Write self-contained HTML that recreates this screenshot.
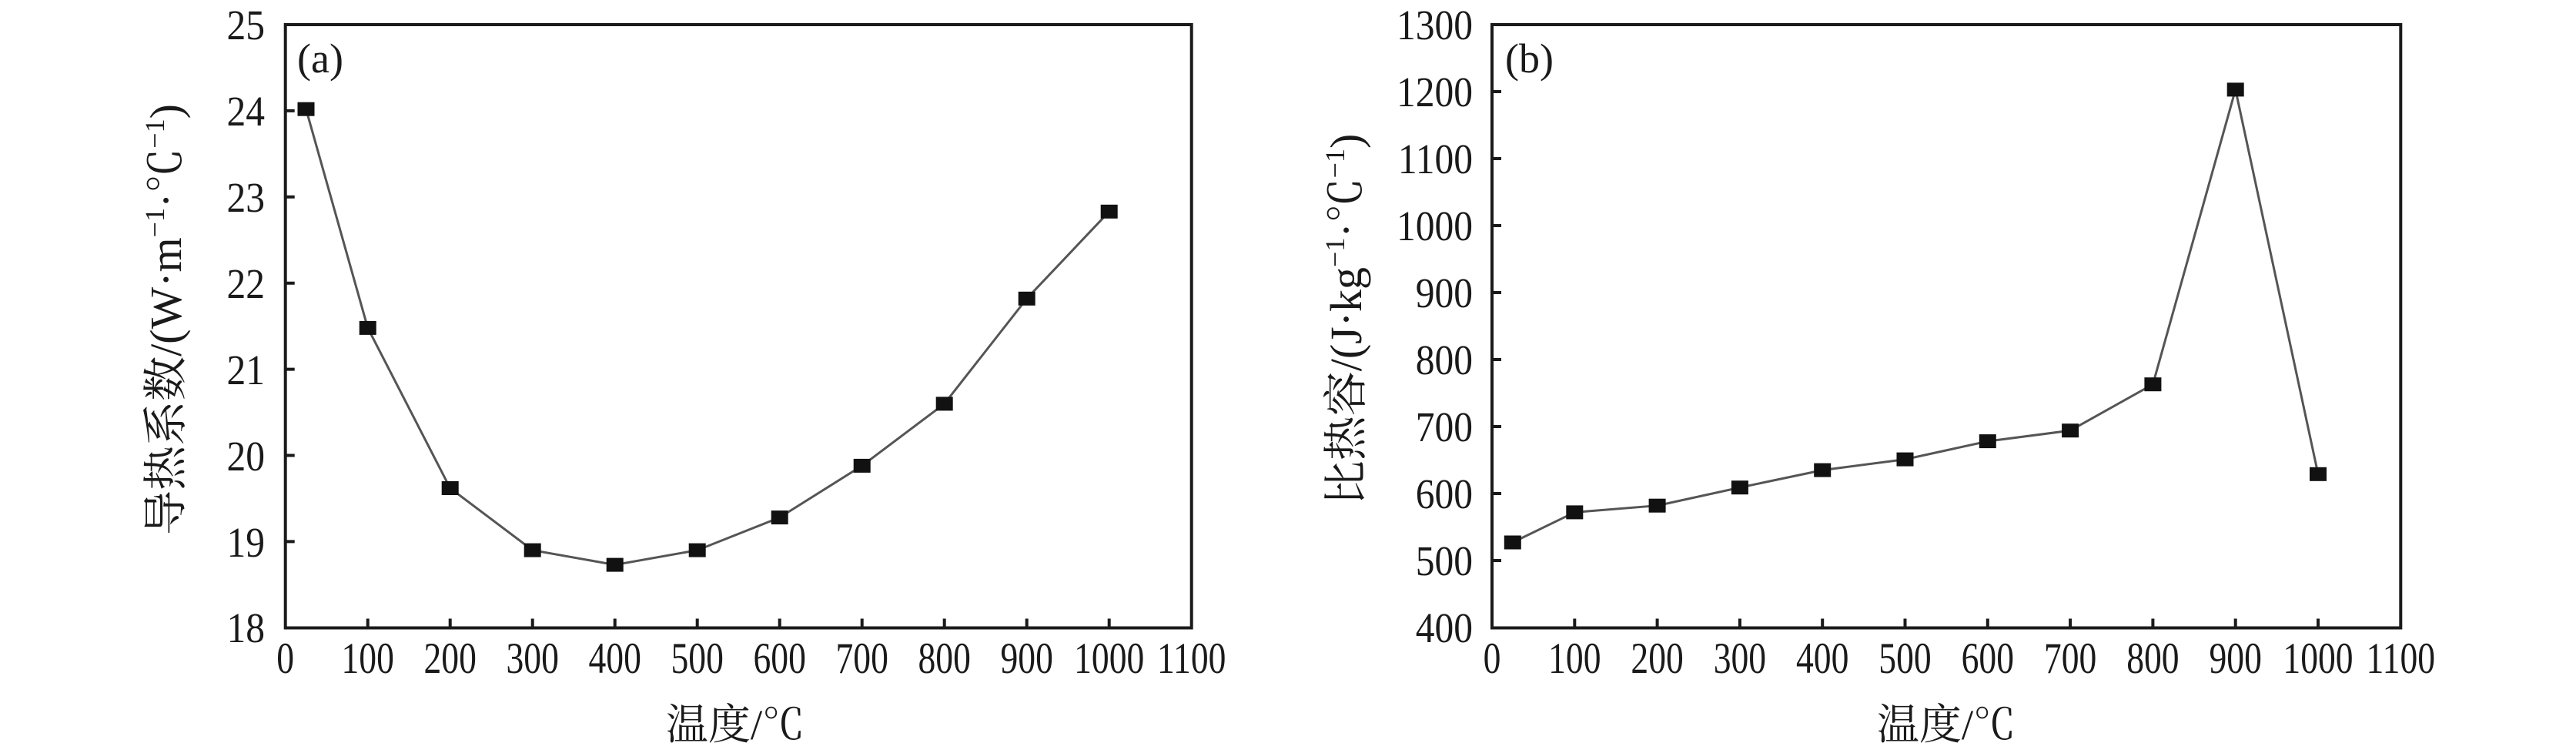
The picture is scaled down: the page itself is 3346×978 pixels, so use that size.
<!DOCTYPE html>
<html><head><meta charset="utf-8"><style>
html,body{margin:0;padding:0;background:#fff;}
svg{display:block;}
text{font-family:"Liberation Serif","Noto Serif CJK SC",serif;fill:#1a1a1a;}
</style></head><body>
<svg width="3346" height="978" viewBox="0 0 3346 978" xmlns="http://www.w3.org/2000/svg">
<!-- Panel (a) -->
<g stroke="#1a1a1a" stroke-width="4" fill="none">
<rect x="370.7" y="32" width="1177" height="783.5"/>
<path d="M370.7 143.9h12M370.7 255.8h12M370.7 367.7h12M370.7 479.6h12M370.7 591.5h12M370.7 703.4h12"/>
<path d="M477.7 815.5v-12M584.7 815.5v-12M691.7 815.5v-12M798.7 815.5v-12M905.7 815.5v-12M1012.7 815.5v-12M1119.7 815.5v-12M1226.7 815.5v-12M1333.7 815.5v-12M1440.7 815.5v-12"/>
</g>
<polyline fill="none" stroke="#555" stroke-width="3" points="397.5,141.7 477.7,425.9 584.7,634 691.7,714.6 798.7,733.6 905.7,714.6 1012.7,672.1 1119.7,604.9 1226.7,524.4 1333.7,387.8 1440.7,274.8"/>
<g fill="#111">
<rect x="386.5" y="132.7" width="22" height="18"/><rect x="466.7" y="416.9" width="22" height="18"/><rect x="573.7" y="625" width="22" height="18"/><rect x="680.7" y="705.6" width="22" height="18"/><rect x="787.7" y="724.6" width="22" height="18"/><rect x="894.7" y="705.6" width="22" height="18"/><rect x="1001.7" y="663.1" width="22" height="18"/><rect x="1108.7" y="595.9" width="22" height="18"/><rect x="1215.7" y="515.4" width="22" height="18"/><rect x="1322.7" y="378.8" width="22" height="18"/><rect x="1429.7" y="265.8" width="22" height="18"/>
</g>
<g font-size="55" text-anchor="end">
<text transform="translate(344,51) scale(0.9,1)">25</text><text transform="translate(344,163) scale(0.9,1)">24</text><text transform="translate(344,275) scale(0.9,1)">23</text><text transform="translate(344,387) scale(0.9,1)">22</text><text transform="translate(344,499) scale(0.9,1)">21</text><text transform="translate(344,611) scale(0.9,1)">20</text><text transform="translate(344,723) scale(0.9,1)">19</text><text transform="translate(344,834) scale(0.9,1)">18</text>
</g>
<g font-size="57" text-anchor="middle">
<text transform="translate(370.7,874) scale(0.8,1)">0</text><text transform="translate(477.7,874) scale(0.8,1)">100</text><text transform="translate(584.7,874) scale(0.8,1)">200</text><text transform="translate(691.7,874) scale(0.8,1)">300</text><text transform="translate(798.7,874) scale(0.8,1)">400</text><text transform="translate(905.7,874) scale(0.8,1)">500</text><text transform="translate(1012.7,874) scale(0.8,1)">600</text><text transform="translate(1119.7,874) scale(0.8,1)">700</text><text transform="translate(1226.7,874) scale(0.8,1)">800</text><text transform="translate(1333.7,874) scale(0.8,1)">900</text><text transform="translate(1440.7,874) scale(0.8,1)">1000</text><text transform="translate(1547.7,874) scale(0.8,1)">1100</text>
</g>
<text x="386" y="94" font-size="54">(a)</text>
<text x="955" y="960" font-size="55" text-anchor="middle">温度/℃</text>
<text transform="translate(235,415) rotate(-90)" font-size="58" text-anchor="middle">导热系数/(W·m<tspan font-size="36" dy="-22">−1</tspan><tspan dy="22">·℃</tspan><tspan font-size="36" dy="-22">−1</tspan><tspan dy="22">)</tspan></text>

<!-- Panel (b) -->
<g stroke="#1a1a1a" stroke-width="4" fill="none">
<rect x="1938" y="32" width="1180.3" height="783.5"/>
<path d="M1938 119h12M1938 206h12M1938 293h12M1938 380h12M1938 467h12M1938 554h12M1938 641h12M1938 728h12"/>
<path d="M2045.3 815.5v-12M2152.6 815.5v-12M2259.9 815.5v-12M2367.2 815.5v-12M2474.5 815.5v-12M2581.8 815.5v-12M2689.1 815.5v-12M2796.4 815.5v-12M2903.7 815.5v-12M3011 815.5v-12"/>
</g>
<polyline fill="none" stroke="#555" stroke-width="3" points="1964.8,704.5 2045.3,665.4 2152.6,656.7 2259.9,633.2 2367.2,610.6 2474.5,596.6 2581.8,573.1 2689.1,559.2 2796.4,499.2 2903.7,116.4 3011,615.8"/>
<g fill="#111">
<rect x="1953.8" y="695.5" width="22" height="18"/><rect x="2034.3" y="656.4" width="22" height="18"/><rect x="2141.6" y="647.7" width="22" height="18"/><rect x="2248.9" y="624.2" width="22" height="18"/><rect x="2356.2" y="601.6" width="22" height="18"/><rect x="2463.5" y="587.6" width="22" height="18"/><rect x="2570.8" y="564.1" width="22" height="18"/><rect x="2678.1" y="550.2" width="22" height="18"/><rect x="2785.4" y="490.2" width="22" height="18"/><rect x="2892.7" y="107.4" width="22" height="18"/><rect x="3000" y="606.8" width="22" height="18"/>
</g>
<g font-size="55" text-anchor="end">
<text transform="translate(1913,51) scale(0.9,1)">1300</text><text transform="translate(1913,138) scale(0.9,1)">1200</text><text transform="translate(1913,225) scale(0.9,1)">1100</text><text transform="translate(1913,312) scale(0.9,1)">1000</text><text transform="translate(1913,399) scale(0.9,1)">900</text><text transform="translate(1913,486) scale(0.9,1)">800</text><text transform="translate(1913,573) scale(0.9,1)">700</text><text transform="translate(1913,660) scale(0.9,1)">600</text><text transform="translate(1913,747) scale(0.9,1)">500</text><text transform="translate(1913,834) scale(0.9,1)">400</text>
</g>
<g font-size="57" text-anchor="middle">
<text transform="translate(1938,874) scale(0.8,1)">0</text><text transform="translate(2045.3,874) scale(0.8,1)">100</text><text transform="translate(2152.6,874) scale(0.8,1)">200</text><text transform="translate(2259.9,874) scale(0.8,1)">300</text><text transform="translate(2367.2,874) scale(0.8,1)">400</text><text transform="translate(2474.5,874) scale(0.8,1)">500</text><text transform="translate(2581.8,874) scale(0.8,1)">600</text><text transform="translate(2689.1,874) scale(0.8,1)">700</text><text transform="translate(2796.4,874) scale(0.8,1)">800</text><text transform="translate(2903.7,874) scale(0.8,1)">900</text><text transform="translate(3011,874) scale(0.8,1)">1000</text><text transform="translate(3118.3,874) scale(0.8,1)">1100</text>
</g>
<text x="1955" y="94" font-size="54">(b)</text>
<text x="2528" y="960" font-size="55" text-anchor="middle">温度/℃</text>
<text transform="translate(1768,415) rotate(-90)" font-size="58" text-anchor="middle">比热容/(J·kg<tspan font-size="36" dy="-22">−1</tspan><tspan dy="22">·℃</tspan><tspan font-size="36" dy="-22">−1</tspan><tspan dy="22">)</tspan></text>
</svg>
</body></html>
